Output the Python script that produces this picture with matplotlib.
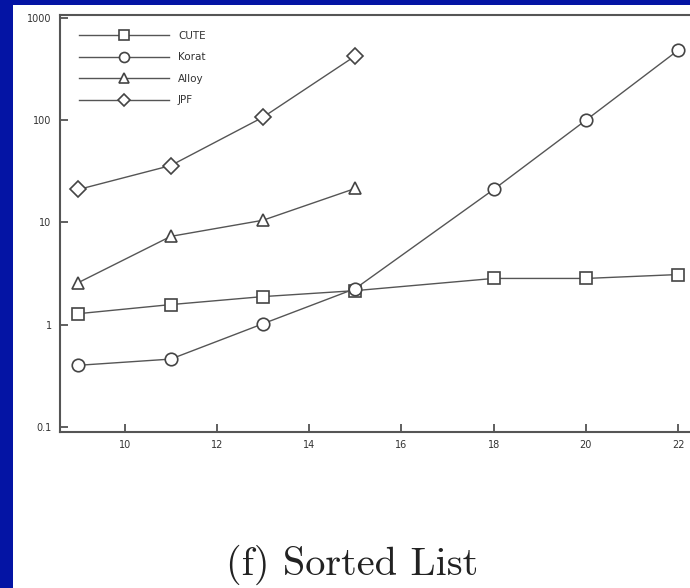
import matplotlib.pyplot as plt
from matplotlib.patches import Rectangle

# list size
sizes = [9, 11, 13, 15, 18, 20, 22]
small_sizes = [9, 11, 13, 15]

# time (log scale) per tool
cute = [1.28, 1.57, 1.88, 2.15, 2.83, 2.83, 3.09]
korat = [0.40, 0.46, 1.02, 2.25, 21, 100, 484]
alloy = [2.58, 7.3, 10.5, 21.5]
jpf = [21, 36, 107, 425]

yticks = [0.1, 1, 10, 100, 1000]
ytick_labels = ['0.1', '1', '10', '100', '1000']
xticks = [10, 12, 14, 16, 18, 20, 22]

fig = plt.figure(figsize=(6.9, 5.88), dpi=100)
fig.patch.set_facecolor('#0414a4')
fig.patches.append(Rectangle((13 / 690, 0), 1, (588 - 5) / 588,
                             transform=fig.transFigure, facecolor='white',
                             edgecolor='none', zorder=-10))

ax = fig.add_axes([60 / 690, (588 - 432) / 588, 632 / 690, 417 / 588])
ax.set_facecolor('white')

line_kw = dict(color='#555555', lw=1.0, markersize=9, markerfacecolor='white',
               markeredgecolor='#444444', markeredgewidth=1.2)
ax.plot(sizes, cute, marker='s', label='CUTE', **line_kw)
ax.plot(sizes, korat, marker='o', label='Korat', **line_kw)
ax.plot(small_sizes, alloy, marker='^', label='Alloy', **line_kw)
ax.plot(small_sizes, jpf, marker='D', label='JPF', **dict(line_kw, markersize=8))

ax.set_yscale('log')
ax.set_ylim(0.089, 1070)
ax.set_xlim(8.6, 22.3)
ax.set_yticks(yticks)
ax.set_yticklabels(ytick_labels)
ax.minorticks_off()
ax.set_xticks(xticks)
ax.tick_params(direction='in', length=6, width=1.2, color='#444444',
               labelsize=7, labelcolor='#333333', pad=6)
for s in ax.spines.values():
    s.set_color('#555555')
    s.set_linewidth(1.5)
ax.spines['right'].set_visible(False)

leg = ax.legend(loc='upper left', frameon=False, fontsize=7.5, handlelength=8.6,
                handletextpad=0.9, labelspacing=1.1, markerscale=0.8,
                borderpad=0, borderaxespad=0, bbox_to_anchor=(0.030, 0.962))
for t in leg.get_texts():
    t.set_color('#333333')

fig.text(352 / 690, 1 - 565 / 588, '(f) Sorted List', family='cmr10',
         fontsize=29, ha='center', va='center', color='#222222')

fig.savefig('out.png', dpi=100, facecolor=fig.get_facecolor())
